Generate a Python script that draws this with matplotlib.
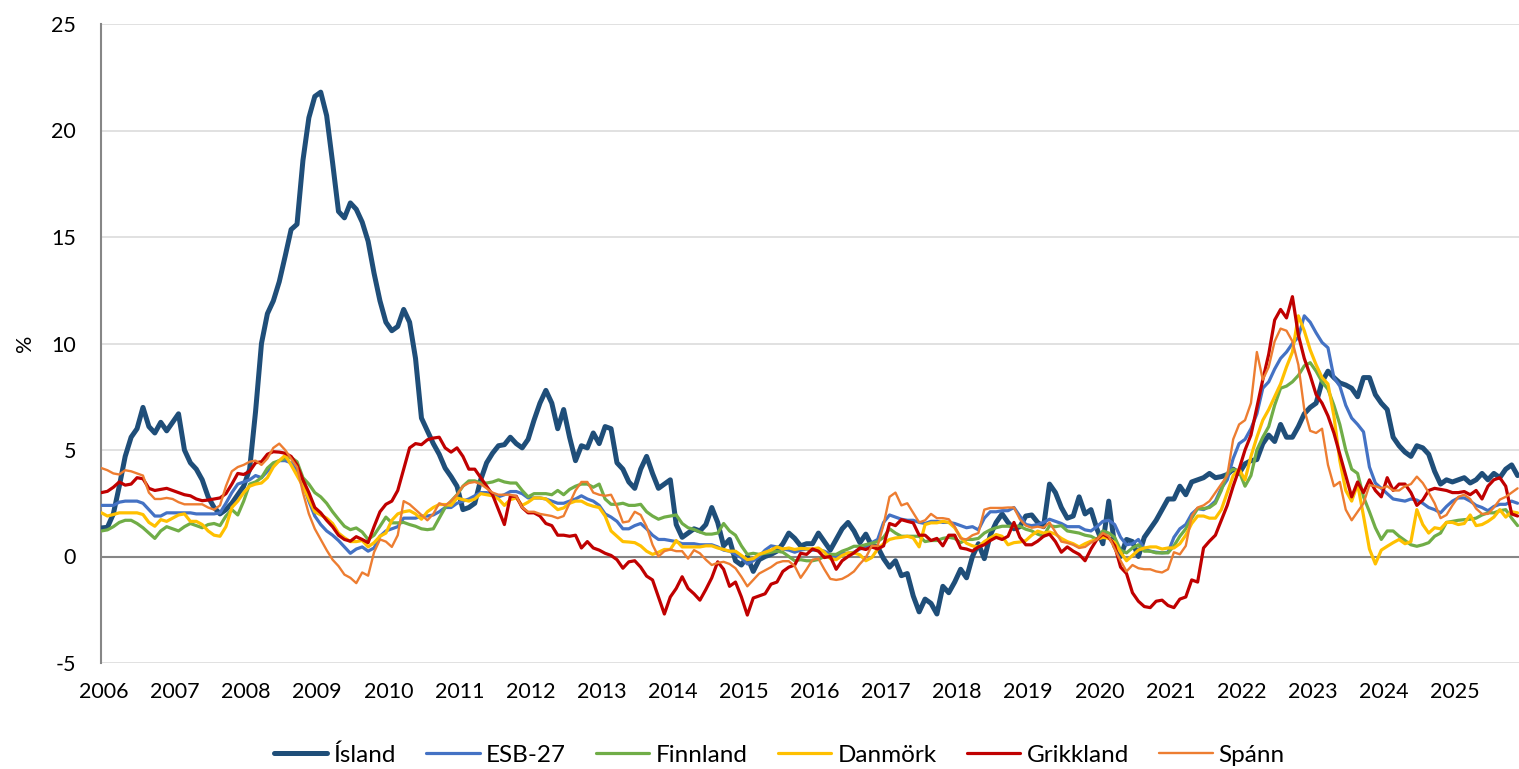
import matplotlib.pyplot as plt
import numpy as np

# monthly values, Jan 2006 - Dec 2025 (one row per year)
island = [
    1.34, 1.37, 2.0, 3.3, 4.7, 5.6, 6.0, 7.0, 6.1, 5.8, 6.3, 5.9,
    6.3, 6.7, 5.0, 4.4, 4.1, 3.6, 2.8, 2.3, 2.0, 2.2, 2.5, 2.9,
    3.3, 4.1, 6.8, 10.0, 11.4, 12.0, 12.9, 14.1, 15.35, 15.6, 18.6, 20.6,
    21.6, 21.8, 20.7, 18.5, 16.2, 15.9, 16.6, 16.3, 15.7, 14.8, 13.3, 12.0,
    11.0, 10.6, 10.8, 11.6, 11.0, 9.3, 6.5, 5.9, 5.3, 4.8, 4.15, 3.75,
    3.3, 2.2, 2.3, 2.5, 3.6, 4.4, 4.85, 5.2, 5.25, 5.6, 5.3, 5.1,
    5.5, 6.4, 7.2, 7.8, 7.2, 6.0, 6.9, 5.6, 4.5, 5.2, 5.1, 5.8,
    5.3, 6.1, 6.0, 4.4, 4.1, 3.5, 3.2, 4.1, 4.7, 3.9, 3.2, 3.4,
    3.6, 1.5, 0.9, 1.1, 1.3, 1.2, 1.5, 2.3, 1.6, 0.5, 0.8, -0.2,
    -0.4, 0.0, -0.7, -0.15, 0.0, 0.1, 0.25, 0.6, 1.1, 0.85, 0.5, 0.6,
    0.6, 1.1, 0.7, 0.3, 0.8, 1.3, 1.6, 1.2, 0.65, 1.05, 0.5, 0.45,
    -0.1, -0.5, -0.2, -0.9, -0.8, -1.85, -2.6, -2.0, -2.2, -2.7, -1.4, -1.7,
    -1.2, -0.6, -1.0, 0.0, 0.6, -0.1, 1.0, 1.6, 2.0, 1.6, 1.3, 1.4,
    1.9, 1.95, 1.6, 1.4, 3.4, 3.0, 2.3, 1.8, 1.9, 2.8, 2.0, 2.2,
    1.3, 0.6, 2.6, 0.5, 0.0, 0.8, 0.7, 0.0, 0.9, 1.3, 1.7, 2.2,
    2.7, 2.7, 3.3, 2.9, 3.5, 3.6, 3.7, 3.9, 3.7, 3.75, 3.85, 4.1,
    3.9, 4.35, 4.5, 4.55, 5.3, 5.7, 5.4, 6.2, 5.6, 5.6, 6.1, 6.7,
    7.0, 7.2, 8.2, 8.7, 8.4, 8.15, 8.05, 7.9, 7.5, 8.4, 8.4, 7.6,
    7.2, 6.9, 5.6, 5.2, 4.9, 4.7, 5.2, 5.1, 4.8, 4.0, 3.4, 3.6,
    3.5, 3.6, 3.7, 3.45, 3.6, 3.9, 3.6, 3.9, 3.7, 4.1, 4.3, 3.8,
]

esb27 = [
    2.4, 2.4, 2.4, 2.55, 2.6, 2.6, 2.6, 2.5, 2.2, 1.9, 1.9, 2.05,
    2.05, 2.05, 2.05, 2.05, 2.0, 2.0, 2.0, 2.0, 2.05, 2.5, 3.0, 3.4,
    3.5, 3.6, 3.8, 3.7, 4.0, 4.3, 4.5, 4.5, 4.4, 4.0, 3.4, 2.6,
    1.9, 1.5, 1.2, 1.0, 0.75, 0.45, 0.15, 0.35, 0.45, 0.25, 0.4, 0.95,
    1.2, 1.3, 1.4, 1.8, 1.8, 1.8, 1.9, 1.9, 1.95, 2.1, 2.3, 2.3,
    2.5, 2.6, 2.7, 2.85, 3.0, 3.0, 2.9, 2.8, 2.9, 3.05, 3.05, 2.95,
    2.75, 2.75, 2.75, 2.7, 2.6, 2.5, 2.5, 2.6, 2.7, 2.85, 2.7, 2.6,
    2.4, 2.0, 1.85, 1.65, 1.3, 1.3, 1.45, 1.55, 1.3, 1.0, 0.8, 0.8,
    0.75, 0.7, 0.6, 0.6, 0.6, 0.55, 0.55, 0.55, 0.45, 0.3, 0.25, 0.1,
    -0.05, -0.35, -0.2, 0.0, 0.3, 0.5, 0.45, 0.35, 0.3, 0.2, 0.3, 0.35,
    0.3, 0.3, 0.25, 0.1, 0.0, 0.15, 0.15, 0.2, 0.35, 0.45, 0.65, 0.8,
    1.6, 1.95, 1.85, 1.75, 1.7, 1.7, 1.6, 1.55, 1.65, 1.65, 1.6, 1.6,
    1.55, 1.45, 1.35, 1.4, 1.25, 1.8, 2.1, 2.1, 2.15, 2.15, 2.3, 1.9,
    1.5, 1.45, 1.5, 1.6, 1.75, 1.65, 1.55, 1.4, 1.4, 1.4, 1.25, 1.2,
    1.4, 1.65, 1.7, 1.5, 0.9, 0.55, 0.6, 0.8, 0.35, 0.25, 0.2, 0.17,
    0.2, 0.9, 1.3, 1.5, 2.0, 2.25, 2.2, 2.35, 2.6, 3.2, 3.6, 4.6,
    5.3, 5.5, 6.0, 6.7, 7.9, 8.2, 8.8, 9.3, 9.6, 10.0, 10.3, 11.3,
    11.0, 10.5, 10.05, 9.8, 8.4, 8.0, 7.1, 6.5, 6.2, 5.85, 4.2, 3.45,
    3.2, 2.95, 2.7, 2.65, 2.6, 2.7, 2.65, 2.5, 2.3, 2.2, 2.05, 2.35,
    2.6, 2.75, 2.75, 2.6, 2.4, 2.3, 2.15, 2.35, 2.45, 2.45, 2.6, 2.5,
]

finnland = [
    1.2, 1.25, 1.4, 1.6, 1.7, 1.7, 1.55, 1.35, 1.1, 0.85, 1.2, 1.4,
    1.3, 1.2, 1.4, 1.55, 1.45, 1.35, 1.5, 1.55, 1.45, 1.9, 2.2, 1.95,
    2.6, 3.4, 3.5, 3.7, 4.15, 4.4, 4.5, 4.6, 4.65, 4.45, 3.7, 3.4,
    3.0, 2.8, 2.5, 2.1, 1.75, 1.42, 1.26, 1.34, 1.15, 0.8, 1.0, 1.42,
    1.85, 1.58, 1.58, 1.6, 1.5, 1.42, 1.3, 1.26, 1.3, 1.8, 2.3, 2.6,
    2.9, 3.3, 3.55, 3.55, 3.45, 3.45, 3.5, 3.6, 3.5, 3.45, 3.45, 3.1,
    2.8, 2.95, 2.95, 2.95, 2.9, 3.1, 2.9, 3.15, 3.3, 3.4, 3.4, 3.25,
    3.4, 2.7, 2.45, 2.45, 2.5, 2.4, 2.4, 2.45, 2.1, 1.9, 1.75, 1.85,
    1.9, 1.95, 1.55, 1.35, 1.27, 1.15, 1.05, 1.05, 1.1, 1.55, 1.2, 1.0,
    0.5, 0.1, 0.15, 0.1, 0.15, 0.2, 0.25, 0.2, 0.0, -0.2, -0.15, -0.2,
    -0.2, -0.14, 0.0, 0.1, 0.1, 0.25, 0.35, 0.48, 0.48, 0.56, 0.62, 0.7,
    0.9, 1.3, 1.1, 0.95, 0.95, 0.95, 0.95, 0.7, 0.75, 0.75, 0.85, 0.9,
    0.85, 0.65, 0.8, 0.8, 0.85, 1.1, 1.25, 1.35, 1.42, 1.42, 1.42, 1.42,
    1.28, 1.2, 1.05, 0.95, 1.45, 1.4, 1.45, 1.2, 1.15, 1.1, 1.0, 0.95,
    0.8, 1.2, 1.1, 0.9, 0.3, 0.17, 0.4, 0.55, 0.25, 0.25, 0.17, 0.17,
    0.17, 0.5, 0.95, 1.3, 1.8, 2.25, 2.25, 2.3, 2.5, 3.1, 3.9, 4.1,
    4.0, 3.3, 3.8, 5.0, 5.6, 6.1, 7.1, 7.9, 8.0, 8.2, 8.5, 8.95,
    9.1, 8.7, 8.2, 7.85, 7.1, 6.2, 5.0, 4.1, 3.9, 2.8, 2.1, 1.35,
    0.8, 1.2, 1.2, 0.95, 0.75, 0.55, 0.48, 0.55, 0.65, 0.95, 1.1, 1.6,
    1.65, 1.7, 1.73, 1.75, 1.8, 1.95, 2.05, 2.05, 2.15, 2.2, 1.8, 1.45,
]

danmork = [
    2.05, 1.9, 1.97, 2.05, 2.05, 2.05, 2.05, 1.97, 1.6, 1.42, 1.73, 1.65,
    1.8, 1.95, 2.0, 1.65, 1.65, 1.5, 1.2, 1.0, 0.95, 1.4, 2.3, 2.6,
    3.0, 3.3, 3.4, 3.45, 3.7, 4.2, 4.5, 4.75, 4.3, 3.8, 3.3, 2.7,
    2.1, 1.95, 1.8, 1.55, 1.1, 0.88, 0.7, 0.7, 0.75, 0.45, 0.65, 0.95,
    1.1, 1.7, 2.0, 2.1, 2.15, 2.0, 1.75, 2.1, 2.3, 2.44, 2.44, 2.4,
    2.75, 2.67, 2.6, 2.7, 2.95, 2.9, 2.85, 2.7, 2.4, 2.67, 2.75, 2.4,
    2.55, 2.75, 2.75, 2.7, 2.45, 2.2, 2.28, 2.5, 2.6, 2.6, 2.45, 2.36,
    2.3, 1.9, 1.2, 0.95, 0.7, 0.68, 0.65, 0.5, 0.25, 0.1, 0.2, 0.33,
    0.33, 0.75, 0.45, 0.45, 0.45, 0.45, 0.5, 0.5, 0.4, 0.33, 0.25, 0.25,
    0.05, -0.15, -0.1, 0.1, 0.2, 0.3, 0.45, 0.35, 0.4, 0.33, 0.38, 0.36,
    0.36, 0.4, 0.2, -0.1, -0.15, 0.05, 0.17, 0.17, 0.08, -0.2, -0.05, 0.35,
    0.6, 0.8, 0.87, 0.9, 0.95, 0.87, 0.45, 1.5, 1.58, 1.58, 1.65, 1.6,
    1.35, 0.9, 0.62, 0.5, 0.45, 0.7, 0.87, 1.03, 0.95, 0.55, 0.65, 0.68,
    0.75, 1.0, 1.19, 1.1, 1.15, 1.05, 0.85, 0.7, 0.6, 0.45, 0.6, 0.72,
    0.8, 0.9, 0.85, 0.65, 0.2, -0.2, 0.05, 0.3, 0.4, 0.45, 0.45, 0.35,
    0.4, 0.4, 0.6, 1.0, 1.55, 1.9, 1.9, 1.8, 1.8, 2.2, 3.0, 3.8,
    4.1, 3.6, 4.7, 5.6, 6.4, 6.9, 7.5, 8.1, 8.9, 9.6, 11.3, 10.6,
    9.7, 9.0, 8.4, 8.1, 6.6, 4.5, 3.1, 2.6, 3.4, 1.9, 0.35, -0.35,
    0.3, 0.48, 0.65, 0.8, 0.6, 0.7, 2.2, 1.5, 1.1, 1.35, 1.3, 1.6,
    1.6, 1.5, 1.55, 1.95, 1.45, 1.5, 1.65, 1.85, 2.2, 1.85, 2.1, 2.05,
]

grikkland = [
    3.0, 3.06, 3.25, 3.5, 3.35, 3.4, 3.7, 3.65, 3.2, 3.1, 3.15, 3.2,
    3.1, 3.0, 2.9, 2.85, 2.7, 2.62, 2.65, 2.7, 2.75, 2.95, 3.4, 3.9,
    3.85, 4.0, 4.4, 4.45, 4.8, 4.92, 4.9, 4.85, 4.7, 4.3, 3.6, 3.0,
    2.3, 2.05, 1.7, 1.4, 1.0, 0.8, 0.72, 0.93, 0.8, 0.65, 1.4, 2.1,
    2.45, 2.6, 3.1, 4.1, 5.1, 5.3, 5.25, 5.48, 5.56, 5.6, 5.1, 4.9,
    5.1, 4.7, 4.1, 4.1, 3.7, 3.3, 2.9, 2.2, 1.5, 2.83, 2.83, 2.3,
    2.05, 2.05, 1.9, 1.55, 1.45, 1.0, 1.0, 0.95, 1.0, 0.4, 0.7, 0.4,
    0.3, 0.15, 0.05, -0.15, -0.55, -0.25, -0.2, -0.5, -0.92, -1.1, -1.9, -2.7,
    -1.9, -1.5, -0.95, -1.5, -1.75, -2.05, -1.55, -1.0, -0.25, -0.6, -1.4, -1.2,
    -1.9, -2.75, -1.95, -1.85, -1.75, -1.3, -1.2, -0.7, -0.5, -0.4, 0.15, 0.1,
    0.35, 0.25, -0.05, 0.0, -0.6, -0.2, 0.0, 0.17, 0.4, 0.33, 0.45, 0.35,
    0.5, 1.55, 1.45, 1.73, 1.65, 1.58, 1.0, 1.0, 0.75, 0.85, 0.5, 1.0,
    1.0, 0.4, 0.35, 0.25, 0.45, 0.55, 0.75, 0.9, 0.8, 0.95, 1.6, 0.9,
    0.55, 0.55, 0.72, 0.95, 1.05, 0.7, 0.2, 0.45, 0.25, 0.1, -0.2, 0.35,
    0.8, 1.05, 0.9, 0.5, -0.5, -0.8, -1.7, -2.1, -2.35, -2.4, -2.1, -2.05,
    -2.3, -2.4, -2.0, -1.9, -1.1, -1.2, 0.4, 0.72, 1.0, 1.7, 2.4, 3.3,
    4.1, 5.0, 5.7, 7.0, 8.3, 9.5, 11.1, 11.6, 11.2, 12.2, 10.4, 9.3,
    8.5, 7.6, 7.2, 6.6, 5.8, 4.8, 3.8, 2.8, 3.5, 3.0, 3.6, 3.1,
    2.8, 3.7, 3.1, 3.4, 3.4, 3.0, 2.4, 2.65, 3.1, 3.2, 3.15, 3.1,
    3.0, 3.0, 3.05, 2.9, 3.1, 2.7, 3.3, 3.6, 3.7, 3.3, 2.0, 1.9,
]

spann = [
    4.15, 4.05, 3.9, 3.85, 4.05, 4.0, 3.9, 3.8, 3.0, 2.7, 2.7, 2.75,
    2.7, 2.55, 2.45, 2.45, 2.45, 2.45, 2.3, 2.2, 2.4, 3.3, 4.0, 4.2,
    4.3, 4.45, 4.5, 4.3, 4.6, 5.1, 5.3, 5.0, 4.6, 4.2, 3.0, 2.0,
    1.3, 0.8, 0.3, -0.15, -0.45, -0.85, -1.0, -1.25, -0.75, -0.9, 0.2, 0.8,
    0.7, 0.45, 1.0, 2.6, 2.45, 2.2, 1.95, 1.7, 2.0, 2.5, 2.4, 2.6,
    2.9, 3.3, 3.45, 3.5, 3.4, 3.2, 3.0, 2.9, 2.9, 2.9, 2.83, 2.3,
    2.1, 2.1, 2.0, 1.95, 1.9, 1.8, 1.9, 2.5, 3.1, 3.5, 3.5, 3.0,
    2.9, 2.85, 2.9, 2.35, 1.6, 1.65, 2.1, 1.95, 1.4, 0.55, 0.0, 0.25,
    0.33, 0.25, 0.25, -0.1, 0.3, 0.15, -0.15, -0.4, -0.3, -0.25, -0.35, -0.55,
    -0.95, -1.4, -1.1, -0.8, -0.65, -0.5, -0.3, -0.22, -0.22, -0.45, -1.0, -0.6,
    -0.15, -0.1, -0.6, -1.05, -1.1, -1.05, -0.9, -0.7, -0.35, -0.05, 0.5, 0.5,
    1.5, 2.8, 3.0, 2.4, 2.5, 2.05, 1.6, 1.7, 2.0, 1.8, 1.8, 1.75,
    1.4, 0.85, 0.8, 1.0, 1.1, 2.2, 2.28, 2.28, 2.28, 2.3, 2.3, 1.75,
    1.45, 1.35, 1.4, 1.35, 1.6, 1.15, 0.7, 0.64, 0.55, 0.4, 0.45, 0.65,
    0.8, 1.1, 0.95, 0.35, -0.2, -0.7, -0.4, -0.55, -0.6, -0.6, -0.7, -0.75,
    -0.6, 0.2, 0.1, 0.5, 1.9, 2.3, 2.4, 2.6, 3.0, 3.4, 3.8, 5.5,
    6.2, 6.4, 7.2, 9.6, 8.3, 8.9, 10.1, 10.7, 10.6, 10.1, 9.0, 6.9,
    5.9, 5.8, 6.0, 4.3, 3.3, 3.5, 2.2, 1.7, 2.1, 2.5, 3.35, 3.3,
    3.2, 3.3, 3.1, 3.1, 3.3, 3.4, 3.75, 3.45, 3.0, 2.5, 1.8, 1.95,
    2.4, 2.8, 2.9, 2.7, 2.25, 2.0, 2.0, 2.3, 2.67, 2.8, 3.0, 3.2,
]

names = ["Ísland", "ESB-27", "Finnland", "Danmörk", "Grikkland", "Spánn"]
years = list(range(2006, 2026))

t = 2006 + np.arange(len(island)) / 12

plt.rcParams['font.family'] = ['Lato', 'DejaVu Sans']
plt.rcParams['axes.unicode_minus'] = False

fig = plt.figure(figsize=(15.19, 7.69), dpi=100)
ax = fig.add_axes([101 / 1519, 1 - 663 / 769, 1418 / 1519, 639 / 769])

series = [island, esb27, finnland, danmork, grikkland, spann]
colors = ["#1F4E79", "#4472C4", "#70AD47", "#FFC000", "#C00000", "#ED7D31"]
widths = [3.6, 2.3, 2.3, 2.3, 2.3, 1.7]

for vals, name, c, lw in zip(series, names, colors, widths):
    ax.plot(t, vals, color=c, lw=lw, label=name, solid_joinstyle='round',
            solid_capstyle='round', zorder=3)

ax.set_ylim(-5, 25)
ax.set_yticks(range(-5, 26, 5))
ax.set_xlim(2006 - 0.007, 2006 - 0.007 + 1418 / 71.1)
ax.set_xticks([y + 0.035 for y in years])
ax.set_xticklabels([str(y) for y in years])

for v in range(-5, 26, 5):
    if v != 0:
        ax.axhline(v, color="#D9D9D9", lw=1.1, zorder=1)
ax.axhline(0, color="#868686", lw=1.5, zorder=2)

for s in ['top', 'right', 'bottom']:
    ax.spines[s].set_visible(False)
ax.spines['left'].set_color("#868686")
ax.spines['left'].set_linewidth(1.5)

ax.tick_params(axis='x', length=0, pad=14, labelsize=15.5)
ax.tick_params(axis='y', length=0, pad=18, labelsize=15.5)
fig.text(25 / 1519, 1 - 343 / 769, "%", rotation=90, ha='center',
         va='center', fontsize=15.5)

fig.legend(loc='center', bbox_to_anchor=(0.513, 1 - 755 / 769), ncol=6,
           frameon=False, fontsize=17.5, handlelength=2.2,
           handletextpad=0.25, columnspacing=1.25)

fig.savefig("out.png", dpi=100)
